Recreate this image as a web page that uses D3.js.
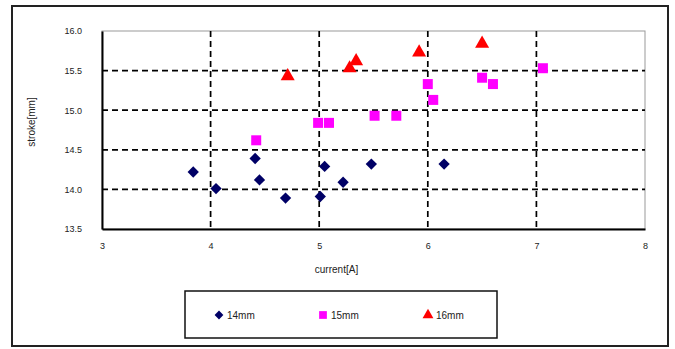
<!DOCTYPE html>
<html><head><meta charset="utf-8">
<script src="https://cdn.jsdelivr.net/npm/d3@7"></script>
<style>body{margin:0;background:#fff;}svg{display:block;font-family:"Liberation Sans",Arial,sans-serif;}</style>
</head><body><svg id="c" width="675" height="349"></svg>
<script>
const xTicks = [3,4,5,6,7,8];
const yTicks = [13.5,14.0,14.5,15.0,15.5,16.0];
const yTickLabels = ["13.5","14.0","14.5","15.0","15.5","16.0"];
const seriesNames = ["14mm","15mm","16mm"];
const s14x = [3.84,4.05,4.41,4.45,4.69,5.01,5.05,5.22,5.48,6.15];
const s14y = [14.22,14.01,14.39,14.12,13.89,13.91,14.29,14.09,14.32,14.32];
const s15x = [4.42,4.99,5.09,5.51,5.71,6.00,6.05,6.50,6.60,7.06];
const s15y = [14.62,14.84,14.84,14.93,14.93,15.33,15.13,15.41,15.33,15.53];
const s16x = [4.71,5.28,5.34,5.92,6.50];
const s16y = [15.43,15.53,15.62,15.73,15.84];

const svg = d3.select("#c");
const L=102,R=645,T=31,B=229;
const x = d3.scaleLinear().domain([3,8]).range([L,R]);
const y = d3.scaleLinear().domain([13.5,16.0]).range([B,T]);

svg.append("rect").attr("x",12).attr("y",6).attr("width",656).attr("height",340)
  .attr("fill","none").attr("stroke","#222").attr("stroke-width",2);

svg.append("rect").attr("x",L).attr("y",T).attr("width",R-L).attr("height",B-T)
  .attr("fill","none").attr("stroke","#999").attr("stroke-width",1);

const g = svg.append("g");
xTicks.filter(v=>v>3&&v<8).forEach(v=>{
  g.append("line").attr("x1",x(v)).attr("x2",x(v)).attr("y1",T).attr("y2",B)
   .attr("stroke","#000").attr("stroke-width",1.7).attr("stroke-dasharray","6,4");
});
yTicks.filter(v=>v>13.5&&v<16).forEach(v=>{
  g.append("line").attr("x1",L).attr("x2",R).attr("y1",y(v)).attr("y2",y(v))
   .attr("stroke","#000").attr("stroke-width",1.7).attr("stroke-dasharray","6,4");
});

const xa = svg.append("g").attr("transform",`translate(0,${B})`)
  .call(d3.axisBottom(x).tickValues(xTicks).tickSize(0).tickPadding(14).tickFormat(d3.format("d")));
const ya = svg.append("g").attr("transform",`translate(${L},0)`)
  .call(d3.axisLeft(y).tickValues(yTicks).tickSize(0).tickPadding(20).tickFormat((d,i)=>yTickLabels[i]));
[xa,ya].forEach(a=>{
  a.select(".domain").attr("stroke","#000").attr("stroke-width",2);
  a.selectAll("text").attr("font-size",9).attr("fill","#222").attr("font-family","Liberation Sans, Arial, sans-serif");
});

svg.append("text").attr("x",(L+R)/2-37).attr("y",273).attr("text-anchor","middle")
  .attr("font-size",10).attr("fill","#222").text("current[A]");
svg.append("text").attr("transform",`translate(35,${(T+B)/2-8}) rotate(-90)`).attr("text-anchor","middle")
  .attr("font-size",10).attr("fill","#222").text("stroke[mm]");

const colors = ["#000066","#ff00ff","#ff0000"];
const shapes = [d3.symbolSquare, d3.symbolSquare, d3.symbolTriangle];
const rots = [45, 0, 0];
const sizes = [64, 100, 85];
const data = [[s14x,s14y],[s15x,s15y],[s16x,s16y]];
data.forEach((s,k)=>{
  svg.append("g").selectAll("path").data(s[0].map((v,i)=>[v,s[1][i]])).join("path")
    .attr("transform",d=>`translate(${x(d[0])},${y(d[1])}) rotate(${rots[k]})`)
    .attr("d",d3.symbol().type(shapes[k]).size(sizes[k])).attr("fill",colors[k]);
});

svg.append("rect").attr("x",185).attr("y",291).attr("width",312).attr("height",47)
  .attr("fill","#fff").attr("stroke","#111").attr("stroke-width",1.5);
const lx = [219,323,428];
seriesNames.forEach((n,k)=>{
  svg.append("path").attr("transform",`translate(${lx[k]},315) rotate(${rots[k]})`)
    .attr("d",d3.symbol().type(shapes[k]).size(sizes[k]*0.6)).attr("fill",colors[k]);
  svg.append("text").attr("x",lx[k]+8).attr("y",318.5).attr("font-size",10).attr("fill","#222").text(n);
});
</script></body></html>
